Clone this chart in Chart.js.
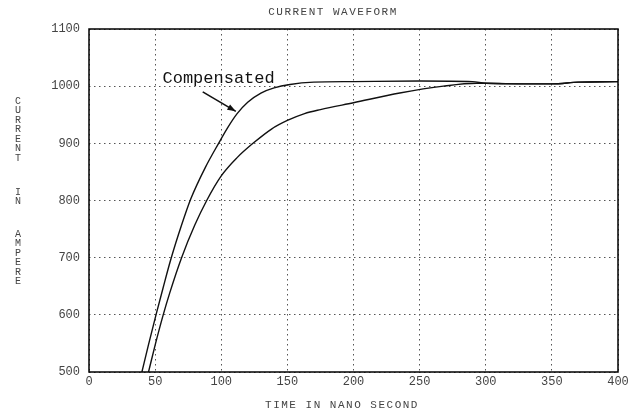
<!DOCTYPE html>
<html>
<head>
<meta charset="utf-8">
<title>Current Waveform</title>
<script src="https://cdn.jsdelivr.net/npm/chart.js@4"></script>
<style>
    html, body { margin: 0; padding: 0; background: #fff; }
    canvas { display: block; }
</style>
</head>
<body>
<canvas id="waveChart" width="633" height="415"></canvas>
<script>
// Data
const compTime      = [40, 45, 51, 56, 62, 70, 77, 88, 98, 105, 112, 120, 130, 140, 152, 170, 200, 250, 290, 300, 330, 350, 370, 400];
const compCurrent   = [500, 548, 603, 647, 698, 757, 803, 858, 900, 928, 952, 972, 988, 997, 1003, 1007, 1008, 1009, 1008, 1005, 1004, 1004, 1007, 1008];
const uncompTime    = [45, 50, 56, 61, 70, 80, 89, 100, 112, 124, 138, 150, 163, 175, 200, 235, 268, 293, 300, 330, 350, 370, 400];
const uncompCurrent = [500, 547, 599, 638, 700, 757, 800, 843, 875, 900, 925, 940, 952, 959, 971, 988, 1000, 1005, 1005, 1004, 1004, 1007, 1008];

const xTicks = [0, 50, 100, 150, 200, 250, 300, 350, 400];
const yTicks = [500, 600, 700, 800, 900, 1000, 1100];

const chartTitle = 'CURRENT WAVEFORM';
const xTitle = 'TIME IN NANO SECOND';
const yTitleWords = ['CURRENT', 'IN', 'AMPERE'];

// annotation: label position and arrow (time, current)
const noteText = 'Compensated';
const notePos = [98, 1013];
const arrowFrom = [86, 990];
const arrowTo = [111, 956];

const toPoints = (xs, ys) => xs.map((x, i) => ({ x, y: ys[i] }));

// Titles, frame and the arrow note
const decorPlugin = {
    id: 'decor',
    afterDraw(chart) {
        const ctx = chart.ctx;
        const area = chart.chartArea;
        const xs = chart.scales.x, ys = chart.scales.y;

        ctx.save();
        // frame
        ctx.strokeStyle = '#000';
        ctx.lineWidth = 1.5;
        ctx.strokeRect(area.left, area.top, area.right - area.left, area.bottom - area.top);

        // chart title and x title
        ctx.fillStyle = '#444';
        ctx.textAlign = 'center';
        ctx.textBaseline = 'middle';
        ctx.font = '11px "Liberation Mono"';
        if ('letterSpacing' in ctx) ctx.letterSpacing = '1.5px';
        ctx.fillText(chartTitle, 333, 12);
        ctx.fillText(xTitle, 342, 405);

        // stacked y title
        ctx.font = '10px "Liberation Mono"';
        if ('letterSpacing' in ctx) ctx.letterSpacing = '0px';
        const starts = [101, 192, 234];
        yTitleWords.forEach((word, w) => {
            [...word].forEach((ch, i) => ctx.fillText(ch, 18, starts[w] + i * 9.5));
        });

        // note + arrow
        ctx.fillStyle = '#111';
        ctx.font = '17px "Liberation Mono"';
        ctx.fillText(noteText, xs.getPixelForValue(notePos[0]), ys.getPixelForValue(notePos[1]));

        const x1 = xs.getPixelForValue(arrowFrom[0]), y1 = ys.getPixelForValue(arrowFrom[1]);
        const x2 = xs.getPixelForValue(arrowTo[0]), y2 = ys.getPixelForValue(arrowTo[1]);
        ctx.strokeStyle = '#111';
        ctx.lineWidth = 1.6;
        ctx.beginPath();
        ctx.moveTo(x1, y1);
        ctx.lineTo(x2, y2);
        ctx.stroke();
        const ang = Math.atan2(y2 - y1, x2 - x1);
        ctx.beginPath();
        ctx.moveTo(x2, y2);
        ctx.lineTo(x2 - 9 * Math.cos(ang - 0.35), y2 - 9 * Math.sin(ang - 0.35));
        ctx.lineTo(x2 - 9 * Math.cos(ang + 0.35), y2 - 9 * Math.sin(ang + 0.35));
        ctx.closePath();
        ctx.fillStyle = '#111';
        ctx.fill();
        ctx.restore();
    }
};

new Chart(document.getElementById('waveChart'), {
    type: 'line',
    data: {
        datasets: [
            {
                label: 'Compensated',
                data: toPoints(compTime, compCurrent),
                borderColor: '#111',
                borderWidth: 1.4,
                pointRadius: 0,
                cubicInterpolationMode: 'monotone',
                fill: false
            },
            {
                label: 'Uncompensated',
                data: toPoints(uncompTime, uncompCurrent),
                borderColor: '#111',
                borderWidth: 1.4,
                pointRadius: 0,
                cubicInterpolationMode: 'monotone',
                fill: false
            }
        ]
    },
    options: {
        responsive: false,
        animation: false,
        layout: { padding: { top: 29, right: 15, left: 0, bottom: 0 } },
        plugins: {
            legend: { display: false },
            title: { display: false },
            tooltip: { enabled: false }
        },
        scales: {
            x: {
                type: 'linear',
                min: 0,
                max: 400,
                afterBuildTicks: (scale) => { scale.ticks = xTicks.map(v => ({ value: v })); },
                afterFit: (scale) => { scale.height = 43; },
                grid: { color: '#555', lineWidth: 1, drawTicks: false },
                border: { display: false, dash: [1.5, 3.5] },
                ticks: {
                    padding: 3,
                    color: '#444',
                    font: { family: 'Liberation Mono', size: 12 },
                    maxRotation: 0,
                    callback: (v) => String(v)
                }
            },
            y: {
                type: 'linear',
                min: 500,
                max: 1100,
                afterBuildTicks: (scale) => { scale.ticks = yTicks.map(v => ({ value: v })); },
                afterFit: (scale) => { scale.width = 89; },
                grid: { color: '#555', lineWidth: 1, drawTicks: false },
                border: { display: false, dash: [1.5, 3.5] },
                ticks: {
                    padding: 9,
                    color: '#444',
                    font: { family: 'Liberation Mono', size: 12 },
                    callback: (v) => String(v)
                }
            }
        }
    },
    plugins: [decorPlugin]
});
</script>
</body>
</html>
